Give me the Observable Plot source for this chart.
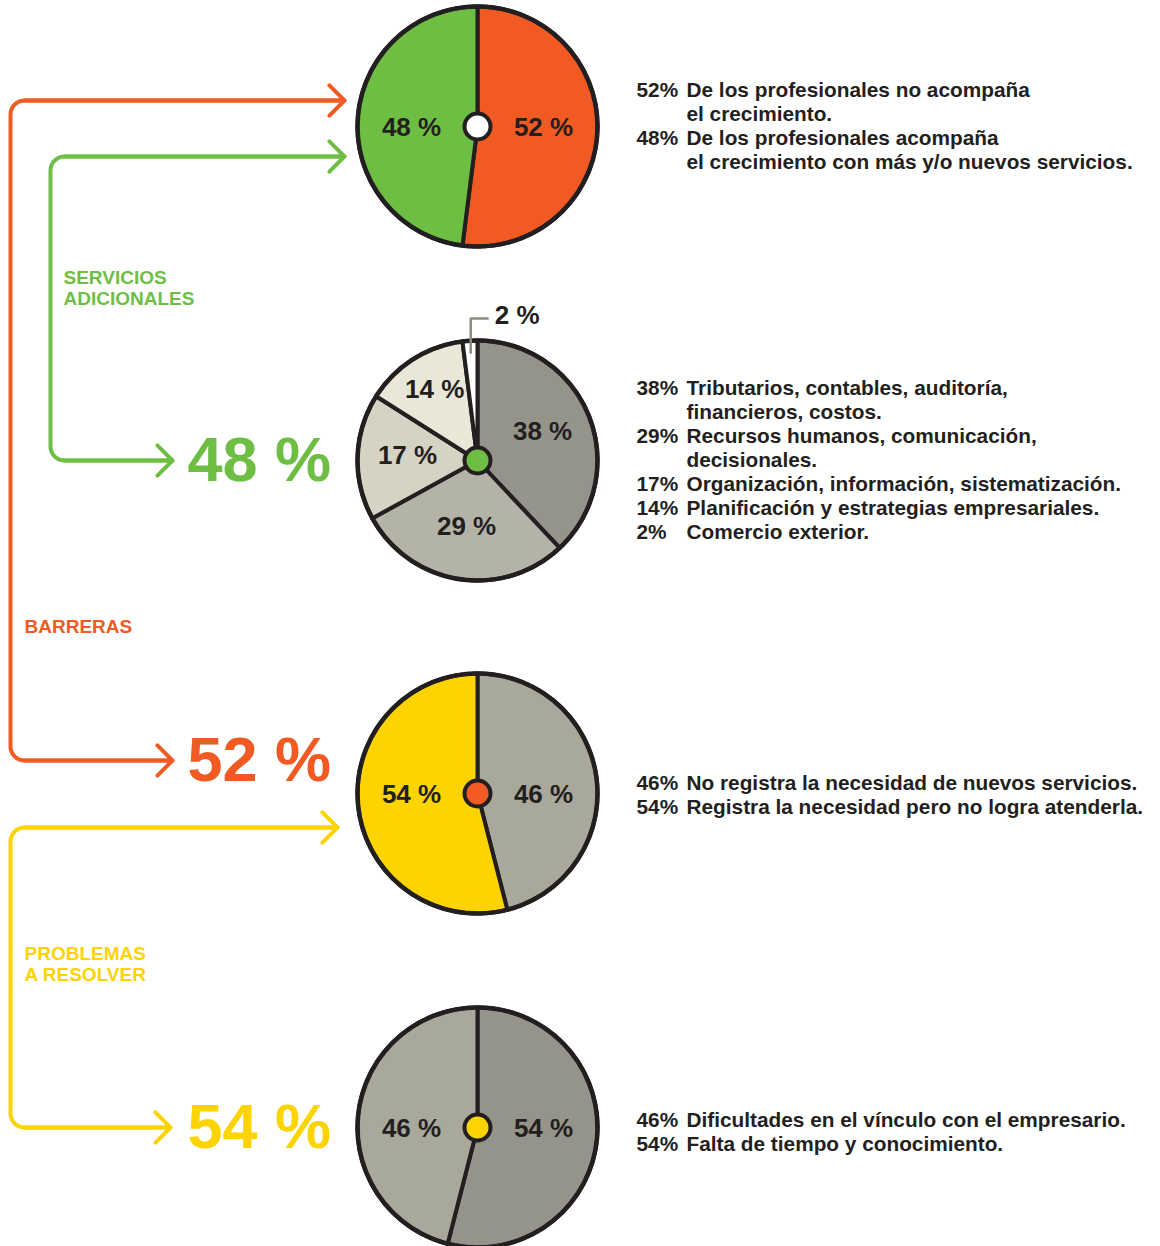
<!DOCTYPE html>
<html>
<head>
<meta charset="utf-8">
<script src="https://cdn.jsdelivr.net/npm/d3@7"></script>
<script src="https://cdn.jsdelivr.net/npm/@observablehq/plot@0.6"></script>
<style>
  html, body { margin: 0; padding: 0; background: #fff; }
</style>
</head>
<body>
<script>
// ---------- DATA ----------
const growthLabels = ["No acompaña", "Acompaña"];
const growthValues = [52, 48];
const servicesLabels = ["Tributarios", "Recursos humanos", "Organización", "Planificación", "Comercio exterior"];
const servicesValues = [38, 29, 17, 14, 2];
const barrierLabels = ["No registra", "Registra"];
const barrierValues = [46, 54];
const problemLabels = ["Falta de tiempo", "Dificultades"];
const problemValues = [54, 46];

const sectionTitles = ["SERVICIOS\nADICIONALES", "BARRERAS", "PROBLEMAS\nA RESOLVER"];

const growthText = [
  ["52%", "De los profesionales no acompaña", "el crecimiento."],
  ["48%", "De los profesionales acompaña", "el crecimiento con más y/o nuevos servicios."]
];
const servicesText = [
  ["38%", "Tributarios, contables, auditoría,", "financieros, costos."],
  ["29%", "Recursos humanos, comunicación,", "decisionales."],
  ["17%", "Organización, información, sistematización."],
  ["14%", "Planificación y estrategias empresariales."],
  ["2%", "Comercio exterior."]
];
const barrierText = [
  ["46%", "No registra la necesidad de nuevos servicios."],
  ["54%", "Registra la necesidad pero no logra atenderla."]
];
const problemText = [
  ["46%", "Dificultades en el vínculo con el empresario."],
  ["54%", "Falta de tiempo y conocimiento."]
];

// ---------- STYLE / LAYOUT ----------
const W = 1160, H = 1246;
const ORANGE = "#f15a22", GREEN = "#6fbe44", YELLOW = "#fdd300", INK = "#231f20";
const pies = [
  {values: growthValues, cx: 477, cy: 126, colors: [ORANGE, GREEN], hub: "#ffffff", text: growthText, textDy: 0},
  {values: servicesValues, cx: 477, cy: 460, colors: ["#94948a", "#b4b3a7", "#d5d3c4", "#e9e7d7", "#ffffff"], hub: GREEN, text: servicesText, textDy: 0},
  {values: barrierValues, cx: 477, cy: 793, colors: ["#a8a89b", YELLOW], hub: ORANGE, text: barrierText, textDy: 2},
  {values: problemValues, cx: 477, cy: 1127, colors: ["#94948a", "#a8a89b"], hub: YELLOW, text: problemText, textDy: 5}
];
const R = 120;

// arrows: vertical x, top y, bottom y, top tip x, bottom tip x
const routes = [
  {color: ORANGE, x: 10, yTop: 100, yBot: 760, tipTop: 344, tipBot: 172},
  {color: GREEN, x: 50, yTop: 156, yBot: 460, tipTop: 344, tipBot: 172},
  {color: YELLOW, x: 10, yTop: 827, yBot: 1127, tipTop: 337, tipBot: 170}
];
const bigNumbers = [
  {value: growthValues[1], color: GREEN, y: 460},
  {value: growthValues[0], color: ORANGE, y: 760},
  {value: barrierValues[1], color: YELLOW, y: 1127}
];
const titles = [
  {text: sectionTitles[0], color: GREEN, x: 63, y: 269},
  {text: sectionTitles[1], color: ORANGE, x: 24, y: 618},
  {text: sectionTitles[2], color: YELLOW, x: 24, y: 945}
];

// ---------- BUILD ----------
const slicePts = [], sliceLabels = [], leaders = [], leaderLabels = [], hubs = [], descPct = [], descTxt = [];
const pieGen = d3.pie().sort(null).value(d => d);
pies.forEach((p, pi) => {
  const arcs = pieGen(p.values);
  arcs.forEach((a, i) => {
    const id = pi + "-" + i, fill = p.colors[i];
    slicePts.push({x: p.cx, y: p.cy, id, fill});
    const n = Math.max(2, Math.ceil((a.endAngle - a.startAngle) / (Math.PI / 180)));
    for (let k = 0; k <= n; k++) {
      const t = a.startAngle + (a.endAngle - a.startAngle) * k / n;
      slicePts.push({x: p.cx + R * Math.sin(t), y: p.cy - R * Math.cos(t), id, fill});
    }
    slicePts.push({x: p.cx, y: p.cy, id, fill});
    const mid = (a.startAngle + a.endAngle) / 2;
    const label = a.data + " %";
    if (a.data < 5) {
      const x0 = p.cx + 108 * Math.sin(mid), y0 = p.cy - 108 * Math.cos(mid);
      const yTop = p.cy - R - 22;
      leaders.push({x: x0, y: y0, id: id}, {x: x0, y: yTop, id: id}, {x: x0 + 17, y: yTop, id: id});
      leaderLabels.push({x: x0 + 24, y: yTop - 3, label});
    } else if (p.values.length === 2) {
      sliceLabels.push({x: p.cx + 66 * Math.sign(Math.sin(mid)), y: p.cy + 1, label});
    } else {
      const rl = a.data < 15 ? 80 : 70;
      sliceLabels.push({x: p.cx + rl * Math.sin(mid), y: p.cy - rl * Math.cos(mid) - 3, label});
    }
  });
  hubs.push({x: p.cx, y: p.cy, fill: p.hub});
  const lines = [];
  p.text.forEach(row => row.slice(1).forEach((t, j) => lines.push({pct: j === 0 ? row[0] : "", t})));
  lines.forEach((l, j) => {
    const y = p.cy + p.textDy + (j - (lines.length - 1) / 2) * 24;
    if (l.pct) descPct.push({x: 636, y, label: l.pct});
    descTxt.push({x: 686, y, label: l.t});
  });
});

const routePts = [], arrowSegs = [];
routes.forEach((r, ri) => {
  const c = 14;
  routePts.push({x: r.tipTop, y: r.yTop, id: ri, color: r.color});
  for (let k = 0; k <= 10; k++) {
    const a = Math.PI / 2 * k / 10;
    routePts.push({x: r.x + c - c * Math.sin(a), y: r.yTop + c - c * Math.cos(a), id: ri, color: r.color});
  }
  for (let k = 0; k <= 10; k++) {
    const a = Math.PI / 2 * k / 10;
    routePts.push({x: r.x + c - c * Math.cos(a), y: r.yBot - c + c * Math.sin(a), id: ri, color: r.color});
  }
  routePts.push({x: r.tipBot, y: r.yBot, id: ri, color: r.color});
  arrowSegs.push({x1: r.x + c, x2: r.tipTop, y: r.yTop, color: r.color});
  arrowSegs.push({x1: r.x + c, x2: r.tipBot, y: r.yBot, color: r.color});
});

const chart = Plot.plot({
  width: W, height: H, margin: 0,
  x: {domain: [0, W], range: [0, W], axis: null},
  y: {domain: [0, H], range: [0, H], axis: null},
  color: {type: "identity"},
  style: {background: "#fff", fontFamily: "Liberation Sans, Arial, sans-serif"},
  marks: [
    // routes
    Plot.line(routePts, {x: "x", y: "y", z: "id", stroke: "color", strokeWidth: 4, strokeLinecap: "round", strokeLinejoin: "round"}),
    Plot.arrow(arrowSegs, {x1: "x1", x2: "x2", y1: "y", y2: "y", stroke: "color", strokeWidth: 4, headAngle: 90, headLength: 8, strokeLinecap: "round", strokeLinejoin: "round"}),
    // pies
    Plot.line(slicePts, {x: "x", y: "y", z: "id", fill: "fill", stroke: INK, strokeWidth: 4, strokeLinejoin: "round", curve: "linear"}),
    Plot.dot(pies, {x: "cx", y: "cy", r: R, fill: "none", stroke: INK, strokeWidth: 4.5}),
    Plot.dot(hubs, {x: "x", y: "y", r: 13, fill: "fill", stroke: INK, strokeWidth: 4}),
    Plot.line(leaders, {x: "x", y: "y", z: "id", stroke: "#8d8d84", strokeWidth: 2.5}),
    Plot.text(sliceLabels, {x: "x", y: "y", text: "label", fill: INK, fontSize: 26, fontWeight: "bold", textAnchor: "middle", lineAnchor: "middle"}),
    Plot.text(leaderLabels, {x: "x", y: "y", text: "label", fill: INK, fontSize: 26, fontWeight: "bold", textAnchor: "start", lineAnchor: "middle"}),
    // big numbers
    Plot.text(bigNumbers, {x: 187, y: "y", text: d => d.value + " %", fill: "color", fontSize: 63, fontWeight: "bold", textAnchor: "start", lineAnchor: "middle"}),
    // section titles
    Plot.text(titles, {x: "x", y: "y", text: "text", fill: "color", fontSize: 19, fontWeight: "bold", textAnchor: "start", lineAnchor: "top", lineHeight: 1.1}),
    // descriptions
    Plot.text(descPct, {x: "x", y: "y", text: "label", fill: INK, fontSize: 20.8, fontWeight: "bold", textAnchor: "start", lineAnchor: "middle"}),
    Plot.text(descTxt, {x: "x", y: "y", text: "label", fill: INK, fontSize: 20.8, fontWeight: "bold", textAnchor: "start", lineAnchor: "middle"})
  ]
});
document.body.appendChild(chart);
</script>
</body>
</html>
